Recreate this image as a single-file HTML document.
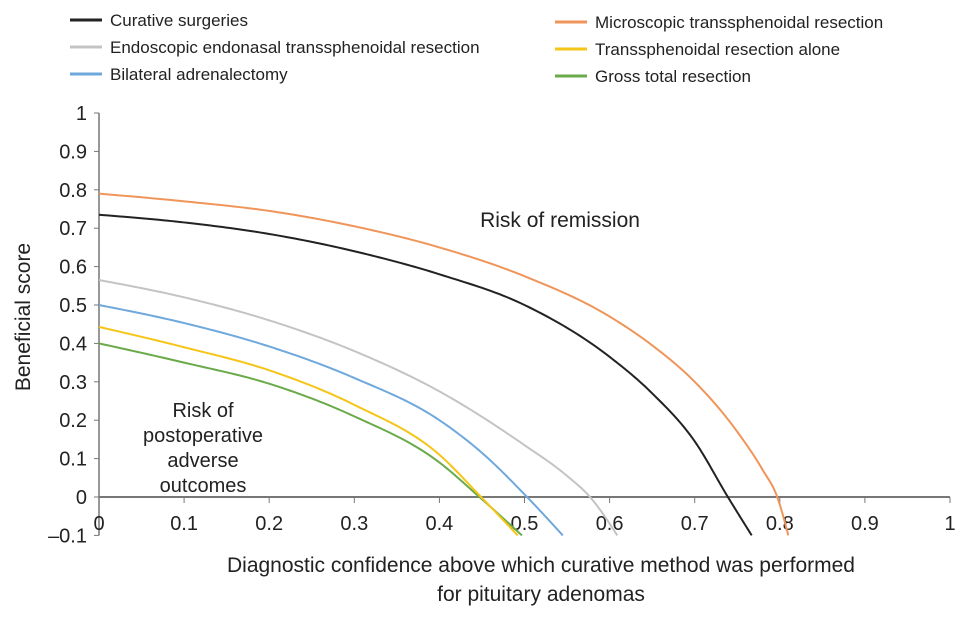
<!DOCTYPE html>
<html><head><meta charset="utf-8"><style>
body{margin:0;background:#fff}
svg text{font-family:"Liberation Sans",Arial,sans-serif;fill:#222}
</style></head><body>
<svg width="969" height="619" viewBox="0 0 969 619">
<g id="legend"></g>
<g id="axes"></g>
<g id="series"></g>
<text x="560" y="227" font-size="21" text-anchor="middle">Risk of remission</text>
<g font-size="20" text-anchor="middle">
<text x="203" y="417">Risk of</text><text x="203" y="442">postoperative</text><text x="203" y="467">adverse</text><text x="203" y="492">outcomes</text></g>
<text x="0" y="0" font-size="21" text-anchor="middle" transform="translate(30,317) rotate(-90)">Beneficial score</text>
<text x="541" y="572" font-size="21" text-anchor="middle">Diagnostic confidence above which curative method was performed</text>
<text x="541" y="601" font-size="21" text-anchor="middle">for pituitary adenomas</text>
</svg>
<script>
const seriesNames=["Curative surgeries","Endoscopic endonasal transsphenoidal resection","Bilateral adrenalectomy","Microscopic transsphenoidal resection","Transsphenoidal resection alone","Gross total resection"];
const seriesColors=["#222","#c4c4c4","#6fa8dc","#f0955a","#f5c518","#6aaa4a"];
const blackX=[0,0.1,0.2,0.3,0.4,0.5,0.6,0.65,0.7,0.739,0.767];
const blackY=[0.735,0.715,0.685,0.64,0.58,0.5,0.365,0.27,0.145,0,-0.1];
const grayX=[0,0.1,0.2,0.3,0.4,0.5,0.55,0.577,0.609];
const grayY=[0.565,0.52,0.46,0.38,0.275,0.135,0.055,0,-0.1];
const blueX=[0,0.1,0.2,0.3,0.4,0.45,0.503,0.545];
const blueY=[0.5,0.453,0.392,0.31,0.2,0.115,0,-0.1];
const orangeX=[0,0.1,0.2,0.3,0.4,0.5,0.6,0.65,0.7,0.75,0.78,0.797,0.81];
const orangeY=[0.79,0.77,0.745,0.705,0.65,0.575,0.47,0.395,0.3,0.17,0.07,0,-0.1];
const yellowX=[0,0.1,0.2,0.3,0.4,0.449,0.492];
const yellowY=[0.443,0.39,0.33,0.24,0.11,0,-0.1];
const greenX=[0,0.1,0.2,0.3,0.4,0.447,0.497];
const greenY=[0.4,0.35,0.295,0.21,0.09,0,-0.1];
const xTicks=[0,0.1,0.2,0.3,0.4,0.5,0.6,0.7,0.8,0.9,1];
const xTickLabels=["0","0.1","0.2","0.3","0.4","0.5","0.6","0.7","0.8","0.9","1"];
const yTicks=[-0.1,0,0.1,0.2,0.3,0.4,0.5,0.6,0.7,0.8,0.9,1];
const yTickLabels=["\u20130.1","0","0.1","0.2","0.3","0.4","0.5","0.6","0.7","0.8","0.9","1"];

const NS="http://www.w3.org/2000/svg";
const sx=v=>99+v*851, sy=v=>497-v*384;
function mk(t,a,p){const e=document.createElementNS(NS,t);for(const k in a)e.setAttribute(k,a[k]);p.appendChild(e);return e;}
const axes=document.getElementById('axes');
let l=mk('line',{x1:sx(0),x2:sx(1),y1:sy(0),y2:sy(0),stroke:'#777','stroke-width':2},axes);


l=mk('line',{x1:sx(0),x2:sx(0),y1:sy(-0.1),y2:sy(1),stroke:'#777','stroke-width':1.5},axes);


xTicks.forEach((v,i)=>{
 mk('line',{x1:sx(v),x2:sx(v),y1:sy(0),y2:sy(0)+6,stroke:'#777'},axes);
 const t=mk('text',{x:sx(v),y:530,'font-size':20,'text-anchor':'middle'},axes);t.textContent=xTickLabels[i];
 
 
});
yTicks.forEach((v,i)=>{
 mk('line',{x1:sx(0)-5,x2:sx(0),y1:sy(v),y2:sy(v),stroke:'#777'},axes);
 const t=mk('text',{x:87,y:sy(v)+7,'font-size':20,'text-anchor':'end'},axes);t.textContent=yTickLabels[i];
 
 
});
function path(xs,ys){
 const n=xs.length,h=[],d=[],m=[];
 for(let i=0;i<n-1;i++){h.push(xs[i+1]-xs[i]);d.push((ys[i+1]-ys[i])/h[i]);}
 for(let i=1;i<n-1;i++){let v=(h[i]*d[i-1]+h[i-1]*d[i])/(h[i-1]+h[i]);
  const lim=3*Math.min(Math.abs(d[i-1]),Math.abs(d[i]));
  if(Math.abs(v)>lim)v=Math.sign(v)*lim; m[i]=v;}
 m[0]=1.5*d[0]-0.5*m[1]; m[n-1]=1.5*d[n-2]-0.5*m[n-2];
 if(m[0]>0)m[0]=0;
 let s='M'+sx(xs[0])+','+sy(ys[0]);
 for(let i=0;i<n-1;i++){
  for(let k=1;k<=20;k++){const t=k/20,t2=t*t,t3=t2*t;
   const y=(2*t3-3*t2+1)*ys[i]+(t3-2*t2+t)*h[i]*m[i]+(-2*t3+3*t2)*ys[i+1]+(t3-t2)*h[i]*m[i+1];
   s+=' L'+sx(xs[i]+t*h[i]).toFixed(2)+','+sy(y).toFixed(2);}}
 return s;}
const data=[[blackX,blackY],[grayX,grayY],[blueX,blueY],[orangeX,orangeY],[yellowX,yellowY],[greenX,greenY]];
const keys=['curative-surgeries','endoscopic-resection','bilateral-adrenalectomy','microscopic-resection','transsphenoidal-alone','gross-total-resection'];
const sg=document.getElementById('series');
[1,2,5,4,0,3].forEach(i=>{
 const p=mk('path',{d:path(data[i][0],data[i][1]),fill:'none',stroke:seriesColors[i],'stroke-width':2,'stroke-linejoin':'round'},sg);
 
 
});
const lg=document.getElementById('legend');
const pos=[[70,20],[70,47],[70,74],[555,22],[555,49],[555,76]];
seriesNames.forEach((n,i)=>{
 const [x,y]=pos[i];
 const g=mk('g',{},lg);
 
 
 mk('line',{x1:x,x2:x+32,y1:y,y2:y,stroke:seriesColors[i],'stroke-width':3},g);
 const t=mk('text',{x:x+40,y:y+6,'font-size':17},g);t.textContent=n;
});
</script>
</body></html>
